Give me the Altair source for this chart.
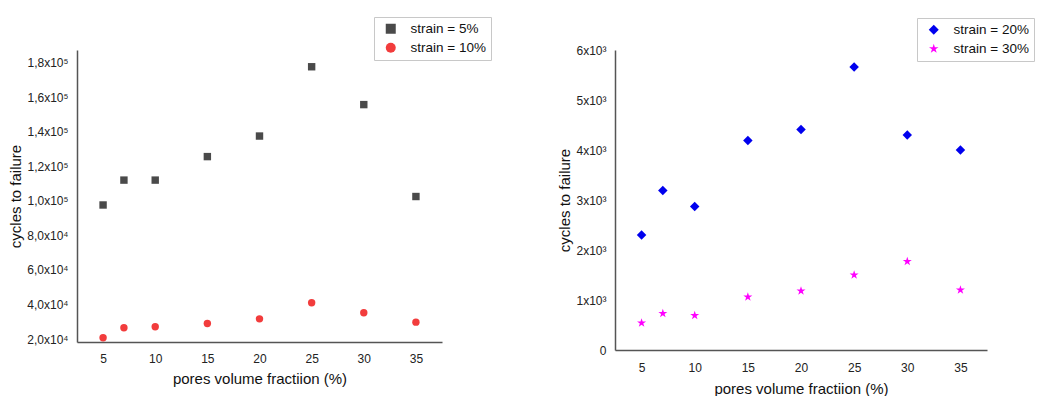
import altair as alt
import pandas as pd

# ---- data ----
x_vals = [5, 7, 10, 15, 20, 25, 30, 35]
strain5 = [97600, 112000, 112000, 125600, 137500, 177600, 155700, 102500]
strain10 = [20800, 26500, 27100, 29000, 31700, 41000, 35200, 29800]
strain20 = [2300, 3190, 2870, 4190, 4410, 5660, 4300, 4000]
strain30 = [540, 730, 690, 1060, 1180, 1500, 1770, 1200]

left_series = ["strain = 5%", "strain = 10%"]
right_series = ["strain = 20%", "strain = 30%"]

x_ticks = [5, 10, 15, 20, 25, 30, 35]
left_ticks = [20000, 40000, 60000, 80000, 100000, 120000, 140000, 160000, 180000]
left_tick_labels = ["2,0x10⁴", "4,0x10⁴", "6,0x10⁴", "8,0x10⁴", "1,0x10⁵",
                    "1,2x10⁵", "1,4x10⁵", "1,6x10⁵", "1,8x10⁵"]
right_ticks = [0, 1000, 2000, 3000, 4000, 5000, 6000]
right_tick_labels = ["0", "1x10³", "2x10³", "3x10³", "4x10³", "5x10³", "6x10³"]

x_title = "pores volume fractiion (%)"
y_title = "cycles to failure"

STAR = ("M0,-1 L0.225,-0.309 L0.951,-0.309 L0.363,0.118 L0.588,0.809 L0,0.382 "
        "L-0.588,0.809 L-0.363,0.118 L-0.951,-0.309 L-0.225,-0.309 Z")

left_df = pd.DataFrame({
    "x": x_vals + x_vals,
    "y": strain5 + strain10,
    "series": [left_series[0]] * len(x_vals) + [left_series[1]] * len(x_vals),
})
right_df = pd.DataFrame({
    "x": x_vals + x_vals,
    "y": strain20 + strain30,
    "series": [right_series[0]] * len(x_vals) + [right_series[1]] * len(x_vals),
})


def label_expr(values, labels):
    vals = ",".join(str(v) for v in values)
    labs = ",".join("'" + l + "'" for l in labels)
    return f"[{labs}][indexof([{vals}], datum.value)]"


def panel(df, series, colors, shapes, yticks, ylabels, ydomain, w, h, lx, ly, size,
          x_label_pad, x_title_pad):
    return alt.Chart(df).mark_point(filled=True, opacity=1, size=size).encode(
        x=alt.X("x:Q",
                scale=alt.Scale(domain=[2.5, 37.5], nice=False, zero=False),
                axis=alt.Axis(values=x_ticks, title=x_title, labelPadding=x_label_pad,
                              titlePadding=x_title_pad)),
        y=alt.Y("y:Q",
                scale=alt.Scale(domain=ydomain, nice=False, zero=False),
                axis=alt.Axis(values=yticks, labelExpr=label_expr(yticks, ylabels),
                              title=y_title, labelPadding=9, titlePadding=3)),
        color=alt.Color("series:N",
                        scale=alt.Scale(domain=series, range=colors),
                        legend=alt.Legend(title=None, orient="none", legendX=lx, legendY=ly)),
        shape=alt.Shape("series:N", scale=alt.Scale(domain=series, range=shapes)),
    ).properties(width=w, height=h)


left = panel(left_df, left_series, ["#4a4a4a", "#f23c3c"], ["square", "circle"],
             left_ticks, left_tick_labels, [18300, 187300], 365, 292, 297, -33, 55, 11, 7)
right = panel(right_df, right_series, ["#0000ee", "#ff00ff"], ["diamond", STAR],
              right_ticks, right_tick_labels, [0, 6000], 372, 300, 302, -32, 90, 12, 8)

chart = alt.hconcat(left, right, spacing=65,
                    padding={"left": 0, "top": 8, "right": 0, "bottom": 0}).resolve_scale(
    color="independent", shape="independent"
).resolve_legend(color="independent", shape="independent").configure(
    font="Liberation Sans"
).configure_view(stroke=None).configure_axis(
    grid=False, ticks=False, domainColor="#555555", domainWidth=1.5,
    labelFont="Liberation Sans", labelFontSize=12, labelColor="#222222",
    titleFont="Liberation Sans", titleFontSize=15, titleFontWeight="normal",
    titleColor="#111111",
).configure_legend(
    labelFont="Liberation Sans", labelFontSize=13.5, labelColor="#111111",
    strokeColor="#c8c8c8", fillColor="#ffffff", padding=5, symbolOffset=5,
    labelOffset=13, rowPadding=4,
)

chart.save("out.html", embed_options={"renderer": "svg", "actions": False})
